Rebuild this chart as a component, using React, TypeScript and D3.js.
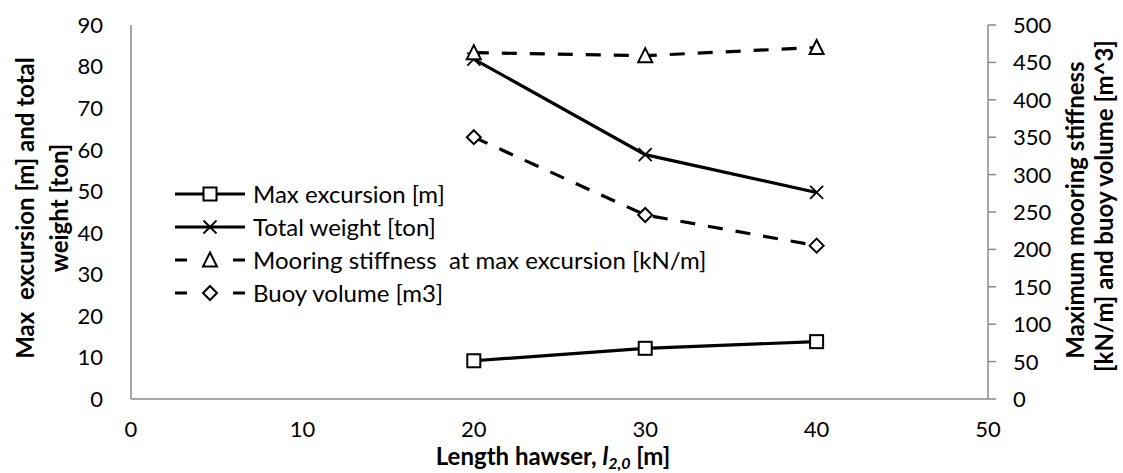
import React from "react";
import * as d3 from "d3";

// Hawser length [m]
const hawserLength = [20, 30, 40];
// Left axis series
const maxExcursion = [9.2, 12.2, 13.8];
const totalWeight = [81.8, 58.8, 49.7];
// Right axis series
const mooringStiffness = [463, 459, 470];
const buoyVolume = [350, 246, 205];

const xTicks = [0, 10, 20, 30, 40, 50];
const yLeftTicks = [0, 10, 20, 30, 40, 50, 60, 70, 80, 90];
const yRightTicks = [0, 50, 100, 150, 200, 250, 300, 350, 400, 450, 500];

const legendLabels = [
  "Max excursion [m]",
  "Total weight [ton]",
  "Mooring stiffness  at max excursion [kN/m]",
  "Buoy volume [m3]",
];

const W = 1123;
const H = 473;
const FONT = "Lato, 'Open Sans', sans-serif";
const AXIS = "#898989";
const TICK_FS = 22;
const LABEL_FS = 24;

type Shape = "square" | "cross" | "triangle" | "diamond";

function Marker({ shape, x, y }: { shape: Shape; x: number; y: number }) {
  const s = 6.5;
  if (shape === "square")
    return <rect x={x - s} y={y - s} width={2 * s} height={2 * s} fill="white" stroke="black" strokeWidth={2} />;
  if (shape === "cross")
    return (
      <path d={`M${x - s},${y - s}L${x + s},${y + s}M${x - s},${y + s}L${x + s},${y - s}`} stroke="black" strokeWidth={1.8} fill="none" />
    );
  if (shape === "triangle")
    return (
      <path d={`M${x},${y - s - 1}L${x + s + 0.5},${y + s}L${x - s - 0.5},${y + s}Z`} fill="white" stroke="black" strokeWidth={2} />
    );
  return (
    <path d={`M${x},${y - s - 0.5}L${x + s + 0.5},${y}L${x},${y + s + 0.5}L${x - s - 0.5},${y}Z`} fill="white" stroke="black" strokeWidth={2} />
  );
}

export default function App() {
  const x = d3.scaleLinear().domain([0, 50]).range([131, 988]);
  const yL = d3.scaleLinear().domain([0, 90]).range([399, 25]);
  const yR = d3.scaleLinear().domain([0, 500]).range([399, 25]);

  const series = [
    { values: maxExcursion, y: yL, shape: "square" as Shape, dash: "" },
    { values: totalWeight, y: yL, shape: "cross" as Shape, dash: "" },
    { values: mooringStiffness, y: yR, shape: "triangle" as Shape, dash: "15,13" },
    { values: buoyVolume, y: yR, shape: "diamond" as Shape, dash: "15,13" },
  ];

  const line = (vals: number[], ys: d3.ScaleLinear<number, number>) =>
    d3
      .line<number>()
      .x((_, i) => x(hawserLength[i]))
      .y((v) => ys(v))(vals) as string;

  const legendY = [194, 227, 260, 293];

  return (
    <svg width={W} height={H} style={{ position: "absolute", left: 0, top: 0, background: "white" }} fontFamily={FONT}>
      <rect width={W} height={H} fill="white" />
      {/* axes */}
      <line x1={x(0)} x2={x(0)} y1={yL(90)} y2={yL(0)} stroke={AXIS} strokeWidth={1.5} />
      <line x1={x(0)} x2={x(50)} y1={yL(0)} y2={yL(0)} stroke={AXIS} strokeWidth={1.5} />
      <line x1={x(50)} x2={x(50)} y1={yR(500)} y2={yR(0)} stroke={AXIS} strokeWidth={1.5} />
      {yRightTicks.map((t) => (
        <line key={t} x1={x(50)} x2={x(50) + 8} y1={yR(t)} y2={yR(t)} stroke={AXIS} strokeWidth={1.5} />
      ))}
      {/* tick labels */}
      {yLeftTicks.map((t) => (
        <text key={t} x={103} y={yL(t)} dy="0.36em" textAnchor="end" fontSize={TICK_FS}>
          {t}
        </text>
      ))}
      {yRightTicks.map((t) => (
        <text key={t} x={1013} y={yR(t)} dy="0.36em" textAnchor="start" fontSize={TICK_FS}>
          {t}
        </text>
      ))}
      {xTicks.map((t) => (
        <text key={t} x={x(t)} y={429} dy="0.36em" textAnchor="middle" fontSize={TICK_FS}>
          {t}
        </text>
      ))}
      {/* axis titles */}
      <text fontSize={LABEL_FS} fontWeight="bold" textAnchor="middle" dy="0.36em" transform="translate(25,208) rotate(-90)" style={{ whiteSpace: "pre" }}>
        {"Max  excursion [m] and total"}
      </text>
      <text fontSize={LABEL_FS} fontWeight="bold" textAnchor="middle" dy="0.36em" transform="translate(59,208) rotate(-90)">
        weight [ton]
      </text>
      <text fontSize={LABEL_FS} fontWeight="bold" textAnchor="middle" dy="0.36em" transform="translate(1075,210) rotate(-90)">
        Maximum mooring stiffness
      </text>
      <text fontSize={LABEL_FS} fontWeight="bold" textAnchor="middle" dy="0.36em" transform="translate(1104,206) rotate(-90)">
        [kN/m] and buoy volume [m^3]
      </text>
      <text x={553} y={456} dy="0.36em" textAnchor="middle" fontSize={LABEL_FS} fontWeight="bold">
        Length hawser, <tspan fontStyle="italic">l</tspan>
        <tspan fontStyle="italic" fontSize={16} dy={4}>2,0</tspan>
        <tspan dy={-4}> [m]</tspan>
      </text>
      {/* series */}
      {series.map((s, i) => (
        <g key={i}>
          <path d={line(s.values, s.y)} fill="none" stroke="black" strokeWidth={3.2} strokeDasharray={s.dash || undefined} />
          {s.values.map((v, j) => (
            <Marker key={j} shape={s.shape} x={x(hawserLength[j])} y={s.y(v)} />
          ))}
        </g>
      ))}
      {/* legend */}
      {series.map((s, i) => (
        <g key={i}>
          <line x1={175} x2={245} y1={legendY[i]} y2={legendY[i]} stroke="black" strokeWidth={3.2} strokeDasharray={s.dash ? "12,46,12" : undefined} />
          <Marker shape={s.shape} x={210} y={legendY[i]} />
          <text x={253} y={legendY[i]} dy="0.36em" fontSize={LABEL_FS} style={{ whiteSpace: "pre" }}>
            {legendLabels[i]}
          </text>
        </g>
      ))}
    </svg>
  );
}
